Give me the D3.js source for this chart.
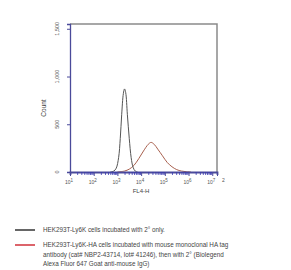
<!DOCTYPE html>
<html><head><meta charset="utf-8">
<script src="https://cdn.jsdelivr.net/npm/d3@7/dist/d3.min.js"></script>
<style>body{margin:0;background:#fff}svg{display:block}</style>
</head><body>
<script>
// Data (log10 of FL4-H, count)
const controlLog = [2.70,2.85,2.95,3.05,3.12,3.18,3.25,3.30,3.35,3.42,3.50,3.58,3.66,3.75,3.85];
const controlCount = [0,10,40,150,350,600,820,870,830,600,350,150,50,10,0];
const stainedLog = [3.0,3.3,3.5,3.7,3.9,4.1,4.3,4.42,4.55,4.7,4.9,5.1,5.3,5.5,5.7,5.9,6.1];
const stainedCount = [0,10,30,70,140,220,290,310,290,240,170,100,55,25,10,3,0];
const yTicks = [0,500,1000,1500];
const yTickLabels = ["0","500","1,000","1,500"];
const xDecades = [1,2,3,4,5,6,7];
const legendItems = [
  {color:"#333", lines:["HEK293T-Ly6K cells incubated with 2° only."]},
  {color:"#d0303a", lines:["HEK293T-Ly6K-HA cells incubated with mouse monoclonal HA tag","antibody (cat# NBP2-43714, lot# 41246), then with 2° (Biolegend","Alexa Fluor 647 Goat anti-mouse IgG)"]}
];

const W=291,H=270;
const svg=d3.select("body").append("svg").attr("width",W).attr("height",H);
const x=d3.scaleLinear().domain([1,7.2]).range([70,217]);
const y=d3.scaleLinear().domain([0,1550]).range([172,24]);
const axisCol="#4a4a9a";
const font="Liberation Sans, Arial, sans-serif";

// frame top/right
svg.append("path").attr("d",`M${x(1)},${y(1550)}H${x(7.2)}V${y(0)}`)
  .attr("fill","none").attr("stroke","#8a8a8a").attr("stroke-width",1.5);

// curves
const line=d3.line().x(d=>x(d[0])).y(d=>y(d[1])).curve(d3.curveCatmullRom);
svg.append("path").datum(stainedLog.map((v,i)=>[v,stainedCount[i]]))
  .attr("d",line).attr("fill","none").attr("stroke","#a8604e").attr("stroke-width",1);
svg.append("path").datum(controlLog.map((v,i)=>[v,controlCount[i]]))
  .attr("d",line).attr("fill","none").attr("stroke","#555").attr("stroke-width",1);

// y axis
const yAxis=d3.axisLeft(y).tickValues(yTicks).tickSize(3).tickFormat("");
const gy=svg.append("g").attr("transform",`translate(${x(1)},0)`).call(yAxis);
gy.select(".domain").attr("stroke",axisCol).attr("stroke-width",1.3);
gy.selectAll(".tick line").attr("stroke",axisCol);
yTicks.forEach((t,i)=>{
  svg.append("text").attr("transform",`translate(59,${y(t)}) rotate(-90)`)
    .attr("text-anchor","middle").attr("font-family",font).attr("font-size",5.5)
    .attr("fill","#555").text(yTickLabels[i]);
});
svg.append("text").attr("transform",`translate(46,108) rotate(-90)`)
  .attr("text-anchor","middle").attr("font-family",font).attr("font-size",6.5)
  .attr("fill","#444").text("Count");

// x axis with minor ticks
const minor=[];
for(let d=1;d<7.2;d++){for(let k=2;k<=9;k++){const v=d+Math.log10(k);if(v<7.2)minor.push(v);}}
const gx=svg.append("g").attr("transform",`translate(0,${y(0)})`)
  .call(d3.axisBottom(x).tickValues(minor).tickSize(3).tickFormat(""));
gx.select(".domain").attr("stroke",axisCol).attr("stroke-width",1.8);
gx.selectAll(".tick line").attr("stroke","#3a3ab0").attr("stroke-width",0.8);
const gx2=svg.append("g").attr("transform",`translate(0,${y(0)})`)
  .call(d3.axisBottom(x).tickValues(xDecades.concat([7.2])).tickSize(4).tickFormat(""));
gx2.select(".domain").remove();
gx2.selectAll(".tick line").attr("stroke",axisCol).attr("stroke-width",1);
xDecades.forEach(dd=>{
  const t=svg.append("text").attr("x",x(dd)-1).attr("y",184).attr("text-anchor","middle")
    .attr("font-family",font).attr("font-size",5).attr("fill","#555");
  t.append("tspan").text("10");
  t.append("tspan").attr("dy",-2.5).attr("font-size",4.5).text(String(dd));
});
svg.append("text").attr("x",x(7.2)+5).attr("y",182).attr("font-family",font)
  .attr("font-size",5).attr("fill","#555").text("2");
svg.append("text").attr("x",141).attr("y",193).attr("text-anchor","middle")
  .attr("font-family",font).attr("font-size",6).attr("fill","#444").text("FL4-H");

// legend
let ly=232;
legendItems.forEach((it,i)=>{
  if(i===1) ly=247;
  svg.append("line").attr("x1",15).attr("x2",35).attr("y1",ly-2).attr("y2",ly-2)
    .attr("stroke",it.color).attr("stroke-width",1.5);
  it.lines.forEach((l,j)=>{
    svg.append("text").attr("x",43).attr("y",ly+j*9.5).attr("font-family",font)
      .attr("font-size",6.3).attr("fill","#444").text(l);
  });
});
</script>
</body></html>
